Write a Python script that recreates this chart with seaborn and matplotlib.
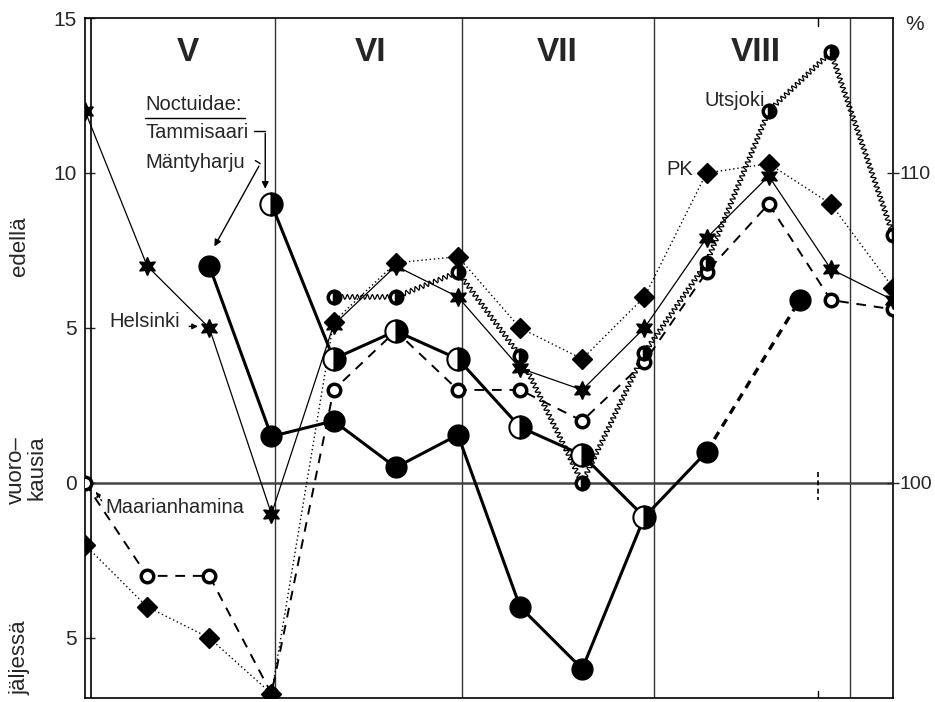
import numpy as np
import pandas as pd
import matplotlib
matplotlib.use('Agg')
import matplotlib.pyplot as plt
import seaborn as sns

# ten-day periods, May..August (index 0..13)
periods = list(range(14))
helsinki = [12, 7, 5, -1, 5.1, 7, 6, 3.7, 3, 5, 7.9, 9.9, 6.9, 5.9]
pk = [-2, -4, -5, -6.8, 5.2, 7.1, 7.3, 5, 4, 6, 10, 10.3, 9, 6.3]
maarianhamina = [0, -3, -3, -6.8, 3, 4.9, 3, 3, 2, 3.9, 6.8, 9, 5.9, 5.6]

utsjoki_x = [4, 5, 6, 7, 8, 9, 10, 11, 12, 13]
utsjoki = [6, 6, 6.8, 4.1, 0, 4.2, 7.1, 12, 13.9, 8]

tammisaari_x = [3, 4, 5, 6, 7, 8, 9]
tammisaari = [9, 4, 4.9, 4, 1.8, 0.9, -1.1]

mantyharju_x = [2, 3, 4, 5, 6, 7, 8, 9, 10]
mantyharju = [7, 1.5, 2, 0.5, 1.55, -4, -6, -1.1, 1]
mantyharju_end_x = [10, 11.5]
mantyharju_end = [1, 5.9]

months = ['V', 'VI', 'VII', 'VIII']
left_ticks = [15, 10, 5, 0, -5]
left_labels = ['15', '10', '5', '0', '5']
right_ticks = [0, 10]
right_labels = ['100', '110']

sns.set_style('white')
plt.rcParams['font.family'] = ['Liberation Sans', 'DejaVu Sans']

fig = plt.figure(figsize=(9.35, 7.02), dpi=100)
ax = fig.add_axes([85 / 935, 4 / 702, 808 / 935, 680 / 702])
ax.set_xlim(0, 13)
ax.set_ylim(-6.94, 15)

# frame and grid lines
for s in ax.spines.values():
    s.set_color('black')
    s.set_linewidth(1.2)
ax.axvline(0.09, color='black', lw=1.2)
for b in [3.06, 6.07, 9.16, 12.31]:
    ax.axvline(b, color='#333333', lw=1.0, zorder=0)
ax.axhline(0, color='#444444', lw=1.8, zorder=0)
ax.plot([11.8, 11.8], [0.35, -0.55], color='black', lw=1.2, linestyle=(0, (3, 2)))
ax.plot([11.8, 11.8], [15, 14.75], color='black', lw=1.0)
ax.plot([11.8, 11.8], [-6.94, -6.7], color='black', lw=1.0)

blk = 'black'


def series(x, y, **kw):
    df = pd.DataFrame({'x': x, 'y': y})
    sns.lineplot(data=df, x='x', y='y', ax=ax, color=blk, legend=False,
                 sort=False, **kw)
    return ax.lines[-1]


# Maarianhamina: open circles, dashed
series(periods, maarianhamina, lw=1.4, linestyle=(0, (5, 4)), zorder=3)
series(periods, maarianhamina, linestyle='none', marker='o', markersize=9,
       markerfacecolor='white', markeredgecolor=blk, markeredgewidth=2.5, zorder=4)

# PK: diamonds, dotted
series(periods, pk, lw=1.0, linestyle=(0, (1, 2)), zorder=3)
series(periods, pk, linestyle='none', marker='D', markersize=10,
       markerfacecolor=blk, markeredgecolor=blk, markeredgewidth=1, zorder=5)

# Helsinki: stars, thin solid
series(periods, helsinki, lw=0.9, zorder=3)
series(periods, helsinki, linestyle='none', marker=(6, 1, 0), markersize=13,
       markerfacecolor=blk, markeredgecolor=blk, markeredgewidth=1, zorder=5)

# Utsjoki: wavy line, small half circles
ln = series(utsjoki_x, utsjoki, lw=0.9, zorder=3)
ln.set_sketch_params(scale=2.5, length=5.0, randomness=1.0)
series(utsjoki_x, utsjoki, linestyle='none', marker='o', markersize=9,
       fillstyle='right', markerfacecolor=blk, markerfacecoloralt='white',
       markeredgecolor=blk, markeredgewidth=2.5, zorder=6)

# Mantyharju: big black circles, thick
series(mantyharju_x, mantyharju, lw=2.2, marker='o', markersize=15,
       markerfacecolor=blk, markeredgecolor=blk, markeredgewidth=1, zorder=6)
series(mantyharju_end_x, mantyharju_end, lw=2.4, linestyle=(0, (2.5, 2)),
       marker='o', markersize=15, markerfacecolor=blk, markeredgecolor=blk,
       markeredgewidth=1, zorder=6, markevery=[1])

# Tammisaari: big half-filled circles, thick
series(tammisaari_x, tammisaari, lw=2.2, marker='o', markersize=16,
       fillstyle='right', markerfacecolor=blk, markerfacecoloralt='white',
       markeredgecolor=blk, markeredgewidth=1.5, zorder=7)

ax.set_xlabel('')
ax.set_ylabel('')
ax.set_xticks([])
ax.set_yticks(left_ticks)
ax.set_yticklabels(left_labels)
ax.tick_params(axis='y', direction='in', length=7, width=1, pad=6,
               labelsize=15, left=True)

ax2 = ax.twinx()
ax2.set_ylim(ax.get_ylim())
ax2.set_yticks(right_ticks)
ax2.set_yticklabels(right_labels)
ax2.tick_params(axis='y', direction='inout', length=8, width=1, pad=1,
                labelsize=14, right=True)
for s in ax2.spines.values():
    s.set_visible(False)

# month labels
for m, xm in zip(months, [1.65, 4.6, 7.6, 10.8]):
    ax.text(xm, 13.9, m, fontsize=24, fontweight='bold', ha='center', va='center')

# annotations
fs = 14.5
ax.text(0.97, 12.2, 'Noctuidae:', fontsize=fs, va='center', ha='left')
ax.plot([0.97, 2.58], [11.78, 11.78], color=blk, lw=1)
ax.text(0.97, 11.3, 'Tammisaari', fontsize=fs, va='center', ha='left')
ax.plot([2.72, 2.90], [11.35, 11.35], color=blk, lw=1)
ax.annotate('', xy=(2.90, 9.4), xytext=(2.90, 11.37),
            arrowprops=dict(arrowstyle='-|>', color=blk, lw=1, mutation_scale=10))
ax.text(0.97, 10.35, 'Mäntyharju', fontsize=fs, va='center', ha='left')
ax.plot([2.74, 2.82], [10.4, 10.3], color=blk, lw=1)
ax.annotate('', xy=(2.06, 7.55), xytext=(2.82, 10.3),
            arrowprops=dict(arrowstyle='-|>', color=blk, lw=1, mutation_scale=10))
ax.text(0.40, 5.2, 'Helsinki', fontsize=fs, va='center', ha='left')
ax.annotate('', xy=(1.86, 5.05), xytext=(1.63, 5.05),
            arrowprops=dict(arrowstyle='-|>', color=blk, lw=1, mutation_scale=8))
ax.text(0.32, -0.8, 'Maarianhamina', fontsize=fs, va='center', ha='left')
ax.annotate('', xy=(0.15, -0.2), xytext=(0.29, -0.65),
            arrowprops=dict(arrowstyle='-|>', color=blk, lw=1, linestyle=':',
                            mutation_scale=8))
ax.text(10.94, 12.35, 'Utsjoki', fontsize=fs, va='center', ha='right')
ax.text(9.78, 10.1, 'PK', fontsize=fs, va='center', ha='right')

fig.text(915 / 935, 1 - 25 / 702, '%', fontsize=15, ha='center', va='center')

fig.text(20 / 935, 1 - 246 / 702, 'edellä', fontsize=16, rotation=90,
         ha='center', va='center')
fig.text(16 / 935, 1 - 470 / 702, 'vuoro–', fontsize=16, rotation=90,
         ha='center', va='center')
fig.text(37 / 935, 1 - 468 / 702, 'kausia', fontsize=16, rotation=90,
         ha='center', va='center')
fig.text(20 / 935, 1 - 658 / 702, 'jäljessä', fontsize=16, rotation=90,
         ha='center', va='center')

fig.savefig('out.png', dpi=100)
